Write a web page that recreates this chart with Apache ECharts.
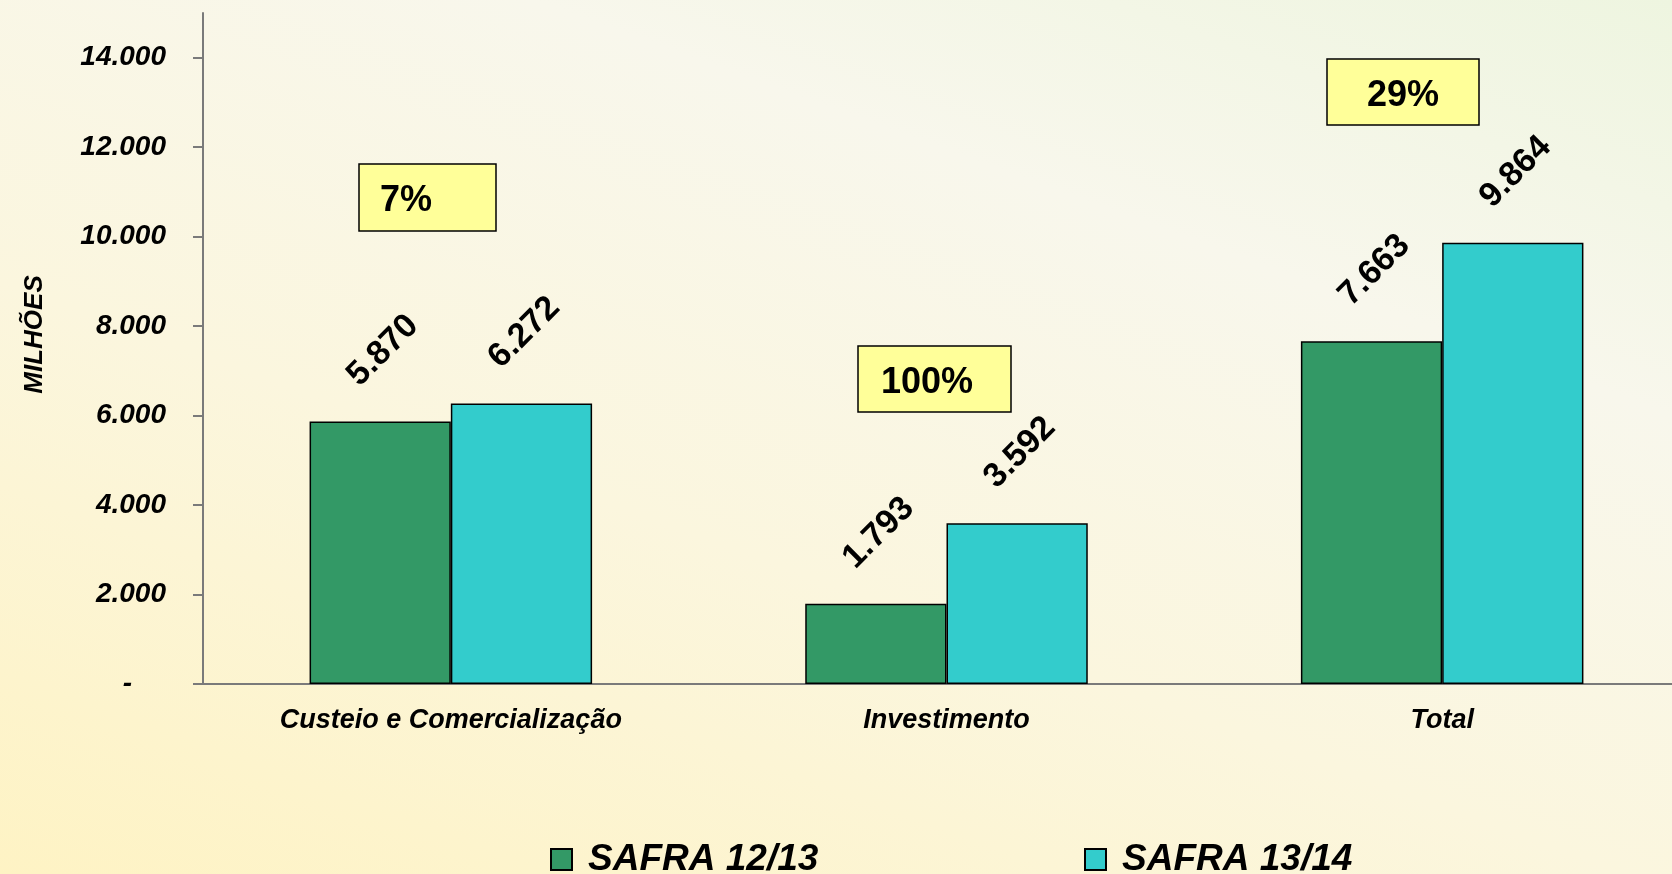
<!DOCTYPE html>
<html>
<head>
<meta charset="utf-8">
<script src="https://cdn.jsdelivr.net/npm/echarts@6/dist/echarts.min.js"></script>
<style>
  html, body { margin: 0; padding: 0; }
  #chart {
    width: 1672px;
    height: 874px;
    background: linear-gradient(200deg, #eef5e0 0%, #f8f7ec 28%, #fbf6de 60%, #fef3c4 100%);
  }
</style>
</head>
<body>
<div id="chart"></div>
<script>
// dados do gráfico
const categories = ['Custeio e Comercialização', 'Investimento', 'Total'];
const safra1213 = [5870, 1793, 7663];
const safra1314 = [6272, 3592, 9864];
const variacao = ['7%', '100%', '29%'];
const yTicks = [0, 2000, 4000, 6000, 8000, 10000, 12000, 14000];

const FONT = '"Liberation Sans", Arial, sans-serif';
const NARROW = '"Liberation Sans Narrow", "Arial Narrow", "Liberation Sans", Arial, sans-serif';

// 5870 -> "5.870"
function fmt(v) {
  return String(v).replace(/\B(?=(\d{3})+(?!\d))/g, '.');
}

const valueLabel = {
  show: true,
  position: 'top',
  distance: 68,
  offset: [4, 0],
  rotate: 45,
  align: 'center',
  verticalAlign: 'middle',
  color: '#000',
  fontFamily: FONT,
  fontWeight: 'bold',
  fontSize: 34,
  formatter: p => fmt(p.value)
};

// caixas de variação (anotações)
const boxes = [
  { x: 359, y: 164, w: 137, h: 67, tx: 380, align: 'left' },
  { x: 858, y: 346, w: 153, h: 66, tx: 881, align: 'left' },
  { x: 1327, y: 59, w: 152, h: 66, tx: 1403, align: 'center' }
];

const graphic = boxes.map((b, i) => ({
  type: 'group',
  children: [
    {
      type: 'rect',
      shape: { x: b.x, y: b.y, width: b.w, height: b.h },
      style: { fill: '#ffff99', stroke: '#000', lineWidth: 1.5 }
    },
    {
      type: 'text',
      x: b.tx,
      y: b.y + b.h / 2 + 4,
      style: {
        text: variacao[i],
        fill: '#000',
        font: 'bold 36px ' + FONT,
        textAlign: b.align,
        textVerticalAlign: 'middle'
      }
    }
  ]
}));

const legendBase = {
  top: 841,
  padding: 0,
  itemWidth: 21,
  itemHeight: 21,
  icon: 'rect',
  textStyle: {
    color: '#000',
    fontFamily: FONT,
    fontWeight: 'bold',
    fontStyle: 'italic',
    fontSize: 37,
    padding: [0, 0, 0, 11]
  }
};

const chart = echarts.init(document.getElementById('chart'), null, { renderer: 'canvas' });

chart.setOption({
  backgroundColor: 'transparent',
  animation: false,
  grid: {
    left: 203,
    right: -18,
    top: 13,
    bottom: 190,
    containLabel: false,
    outerBoundsMode: 'none'
  },
  legend: [
    Object.assign({ left: 550, data: ['SAFRA 12/13'] }, legendBase),
    Object.assign({ left: 1084, data: ['SAFRA 13/14'] }, legendBase)
  ],
  xAxis: {
    type: 'category',
    data: categories,
    axisLine: { lineStyle: { color: '#7a7a7a', width: 2 } },
    axisTick: { length: 8, lineStyle: { color: '#7a7a7a', width: 2 } },
    axisLabel: {
      margin: 23,
      color: '#000',
      fontFamily: FONT,
      fontWeight: 'bold',
      fontStyle: 'italic',
      fontSize: 27
    },
    splitLine: { show: false }
  },
  yAxis: {
    type: 'value',
    min: 0,
    max: 15000,
    interval: 1000,
    name: 'MILHÕES',
    nameLocation: 'middle',
    nameGap: 155,
    nameTextStyle: {
      color: '#000',
      fontFamily: NARROW,
      fontWeight: 'bold',
      fontStyle: 'italic',
      fontSize: 26,
      padding: [0, 0, 0, 28]
    },
    axisLine: { show: true, lineStyle: { color: '#7a7a7a', width: 2 } },
    axisTick: {
      show: true,
      length: 10,
      customValues: yTicks,
      lineStyle: { color: '#7a7a7a', width: 2 }
    },
    axisLabel: {
      margin: 37,
      customValues: yTicks,
      color: '#000',
      fontFamily: FONT,
      fontWeight: 'bold',
      fontStyle: 'italic',
      fontSize: 28,
      formatter: v => (v === 0 ? '{z|-}' : fmt(v)),
      rich: {
        z: {
          color: '#000',
          fontFamily: FONT,
          fontWeight: 'bold',
          fontStyle: 'italic',
          fontSize: 28,
          padding: [0, 34, 0, 0]
        }
      }
    },
    splitLine: { show: false }
  },
  series: [
    {
      name: 'SAFRA 12/13',
      type: 'bar',
      data: safra1213,
      barGap: '0%',
      barCategoryGap: '43%',
      itemStyle: { color: '#339966', borderColor: '#000', borderWidth: 1.5 },
      label: valueLabel
    },
    {
      name: 'SAFRA 13/14',
      type: 'bar',
      data: safra1314,
      barGap: '0%',
      barCategoryGap: '43%',
      itemStyle: { color: '#33cccc', borderColor: '#000', borderWidth: 1.5 },
      label: valueLabel
    }
  ],
  graphic: graphic
});
</script>
</body>
</html>
